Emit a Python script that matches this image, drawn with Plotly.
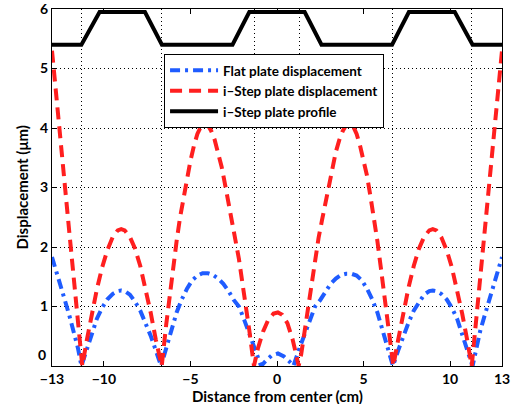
import plotly.graph_objects as go

# ---- data ----
red_x = [-13, -12.75, -12.5, -12.25, -12.0, -11.75, -11.5, -11.25, -11.0, -10.7, -10.4, -10.1,
         -9.8, -9.5, -9.2, -9.0, -8.8, -8.5, -8.2, -7.9, -7.6, -7.3, -7.0, -6.66, -6.4, -6.2,
         -6.0, -5.8, -5.6, -5.4, -5.2, -5.0, -4.8, -4.6, -4.4, -4.2, -4.0, -3.8, -3.6, -3.4,
         -3.2, -3.0, -2.8, -2.6, -2.4, -2.2, -2.0, -1.8, -1.6, -1.4, -1.33, -1.1, -0.8, -0.5,
         -0.2, 0.05, 0.3, 0.6, 0.9, 1.1, 1.25, 1.4, 1.6, 1.8, 2.0, 2.2, 2.4, 2.6, 2.8, 3.0,
         3.2, 3.4, 3.6, 3.8, 4.0, 4.2, 4.4, 4.6, 4.8, 5.0, 5.2, 5.4, 5.6, 5.8, 6.0, 6.2, 6.4,
         6.72, 7.0, 7.3, 7.6, 7.9, 8.2, 8.5, 8.8, 9.0, 9.2, 9.5, 9.8, 10.1, 10.4, 10.7, 11.0,
         11.25, 11.5, 11.75, 12.0, 12.25, 12.5, 12.75, 13]
red_y = [5.3, 4.5, 3.75, 3.0, 2.25, 1.5, 0.75, 0.0, 0.42, 0.88, 1.3, 1.66,
         1.95, 2.16, 2.28, 2.3, 2.28, 2.17, 1.97, 1.68, 1.32, 0.9, 0.44, 0.0, 0.7, 1.2,
         1.65, 2.1, 2.5, 2.85, 3.2, 3.45, 3.7, 3.9, 4.02, 4.08, 4.05, 3.95, 3.8, 3.6,
         3.35, 3.05, 2.75, 2.45, 2.15, 1.8, 1.4, 1.05, 0.6, 0.15, 0.0, 0.3, 0.58, 0.78,
         0.88, 0.9, 0.86, 0.72, 0.45, 0.2, 0.0, 0.2, 0.6, 1.05, 1.4, 1.8, 2.15, 2.45, 2.75, 3.05,
         3.35, 3.6, 3.8, 3.95, 4.05, 4.09, 4.03, 3.9, 3.7, 3.45, 3.2, 2.85, 2.5, 2.1, 1.65, 1.2, 0.7,
         0.0, 0.44, 0.9, 1.32, 1.68, 1.97, 2.17, 2.28, 2.3, 2.28, 2.16, 1.95, 1.66, 1.3, 0.88, 0.42,
         0.0, 0.75, 1.5, 2.25, 3.0, 3.75, 4.5, 5.3]

blue_x = [-13, -12.75, -12.5, -12.25, -12.0, -11.75, -11.5, -11.3, -11.0, -10.7, -10.4, -10.1,
          -9.8, -9.5, -9.2, -9.0, -8.8, -8.5, -8.2, -7.9, -7.6, -7.3, -7.0, -6.7, -6.4, -6.1,
          -5.8, -5.5, -5.2, -4.9, -4.6, -4.3, -4.0, -3.7, -3.4, -3.1, -2.8, -2.5, -2.2, -1.9,
          -1.6, -1.3, -0.92, -0.6, -0.3, 0.05, 0.4, 0.7, 0.95, 1.3, 1.6, 1.9, 2.2, 2.5, 2.8,
          3.1, 3.4, 3.7, 4.0, 4.3, 4.6, 4.9, 5.2, 5.5, 5.8, 6.1, 6.4, 6.7, 7.0, 7.3, 7.6, 7.9,
          8.2, 8.5, 8.8, 9.0, 9.2, 9.5, 9.8, 10.1, 10.4, 10.7, 11.0, 11.3, 11.5, 11.75, 12.0,
          12.25, 12.5, 12.75, 13]
blue_y = [1.83, 1.6, 1.35, 1.1, 0.85, 0.6, 0.3, 0.0, 0.26, 0.51, 0.8, 0.98,
          1.12, 1.21, 1.26, 1.27, 1.26, 1.2, 1.08, 0.93, 0.73, 0.51, 0.26, 0.0, 0.3, 0.6,
          0.9, 1.12, 1.3, 1.44, 1.52, 1.56, 1.56, 1.53, 1.47, 1.38, 1.26, 1.11, 1.0, 0.78,
          0.55, 0.3, 0.0, 0.1, 0.18, 0.21, 0.16, 0.08, 0.0, 0.3, 0.55, 0.78, 1.0, 1.11, 1.26,
          1.38, 1.47, 1.53, 1.55, 1.55, 1.52, 1.44, 1.3, 1.12, 0.9, 0.6, 0.3, 0.0, 0.26, 0.51, 0.73, 0.93,
          1.08, 1.2, 1.26, 1.27, 1.26, 1.21, 1.12, 0.98, 0.8, 0.51, 0.26, 0.0, 0.3, 0.6, 0.85,
          1.1, 1.35, 1.6, 1.83]

profile_x = [-13, -11.3, -10.25, -7.63, -6.65, -2.57, -1.6, 1.6, 2.57, 6.65, 7.62, 10.27, 11.3, 13]
profile_y = [5.4, 5.4, 5.95, 5.95, 5.4, 5.4, 5.95, 5.95, 5.4, 5.4, 5.95, 5.95, 5.4, 5.4]

x_tick_vals = [-13, -10, -5, 0, 5, 10, 13]
x_tick_text = ["\u221213", "\u221210", "\u22125", "0", "5", "10", "13"]
x_grid_vals = [-11.3, -6.68, -1.32, 1.32, 6.7, 11.25]
y_tick_vals = [1, 2, 3, 4, 5, 6]
y_tick_text = ["1", "2", "3", "4", "5", "6"]
y_zero_label_pos = 0.2

FONT = "Lato"

fig = go.Figure()
fig.add_trace(go.Scatter(x=blue_x, y=blue_y, mode="lines", name="Flat plate displacement",
                         line=dict(color="#1f5cff", width=4, dash="10px,5px,3px,5px")))
fig.add_trace(go.Scatter(x=red_x, y=red_y, mode="lines", name="i\u2013Step plate displacement",
                         line=dict(color="#ff1f1f", width=4, dash="12px,7px")))
fig.add_trace(go.Scatter(x=profile_x, y=profile_y, mode="lines", name="i\u2013Step plate profile",
                         line=dict(color="black", width=4)))

tickfont = dict(family=FONT, size=14, color="black", weight="bold")
titlefont = dict(family=FONT, size=15, color="black", weight="bold")

fig.update_layout(
    width=511, height=404,
    margin=dict(l=52, r=9, t=9, b=38, autoexpand=False),
    paper_bgcolor="white", plot_bgcolor="white",
    font=dict(family=FONT, color="black"),
    xaxis=dict(range=[-13, 13], tickmode="array", tickvals=x_tick_vals, ticktext=x_tick_text,
               showgrid=False, zeroline=False, showline=True, linecolor="black", linewidth=1,
               mirror="ticks", ticks="inside", ticklen=5, tickcolor="black", tickfont=tickfont,
               ticklabelstandoff=0, automargin=False, ticklabeloverflow="allow",
               minor=dict(tickmode="array", tickvals=x_grid_vals, ticks="", showgrid=True,
                          gridcolor="black", gridwidth=1, griddash="1px,3px")),
    yaxis=dict(range=[0, 6], tickmode="array", tickvals=y_tick_vals, ticktext=y_tick_text,
               showgrid=True, gridcolor="black", gridwidth=1, griddash="1px,3px",
               zeroline=False, showline=True, linecolor="black", linewidth=1,
               mirror="ticks", ticks="inside", ticklen=5, tickcolor="black", tickfont=tickfont,
               automargin=False, ticklabeloverflow="allow"),
    legend=dict(x=0.249, y=0.874, xanchor="left", yanchor="top",
                bgcolor="white", bordercolor="black", borderwidth=1,
                font=dict(family=FONT, size=13.5, color="black", weight="bold"),
                tracegroupgap=0, itemwidth=48),
    showlegend=True,
    annotations=[
        dict(text="0", xref="paper", x=0, xanchor="right", xshift=-4,
             yref="y", y=y_zero_label_pos, yanchor="middle", showarrow=False, font=tickfont),
        dict(text="Distance from center (cm)", xref="paper", x=0.5, xanchor="center",
             yref="paper", y=-0.083, yanchor="middle", showarrow=False, font=titlefont),
        dict(text="Displacement (\u03bcm)", xref="paper", x=-0.0667, xanchor="center",
             yref="paper", y=0.5, yanchor="middle", textangle=-90, showarrow=False,
             font=titlefont),
    ],
)

fig.write_html("out.html", config={"displayModeBar": False},
               post_script="document.body.style.margin='0';")
